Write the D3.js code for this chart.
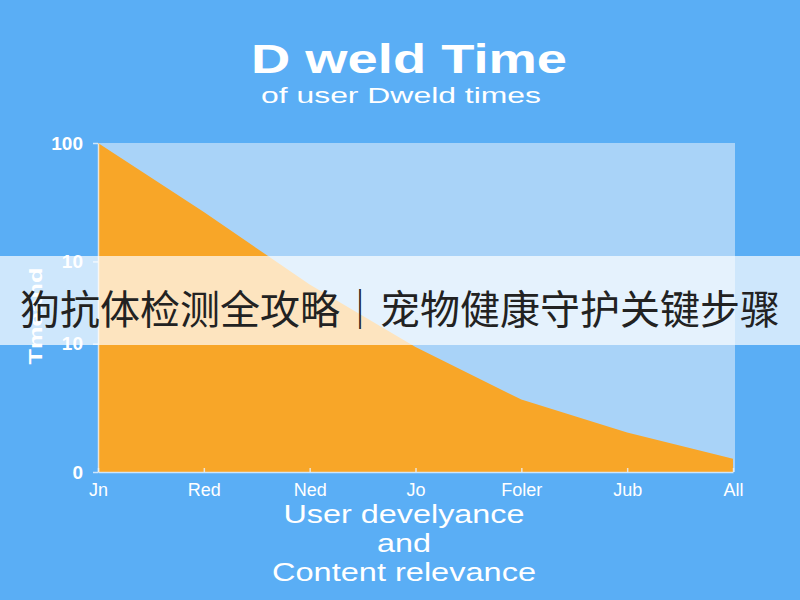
<!DOCTYPE html>
<html>
<head>
<meta charset="utf-8">
<script src="https://cdn.jsdelivr.net/npm/d3@7/dist/d3.min.js"></script>
<style>
  html, body { margin: 0; padding: 0; background: #5aaef5; }
  svg { display: block; }
</style>
</head>
<body>
<div id="chart"></div>
<script>
// chart data
var months = ["Jn", "Red", "Ned", "Jo", "Foler", "Jub", "All"];
var dwell = [100, 79, 57, 38, 22, 12, 4];
var yTickValues = [0, 39, 64, 100];
var yTickLabels = ["0", "10", "10", "100"];
var axisTitleLines = ["User develyance", "and", "Content relevance"];
var banner = "狗抗体检测全攻略｜宠物健康守护关键步骤";

// set the dimensions and margins of the graph
var W = 800, H = 600;
var margin = {top: 143, right: 65, bottom: 128, left: 98},
    width = W - margin.left - margin.right,
    height = H - margin.top - margin.bottom;

var svg = d3.select("#chart").append("svg")
    .attr("width", W)
    .attr("height", H);

svg.append("rect")
    .attr("width", W).attr("height", H)
    .attr("fill", "#5aaef5");

// title + subtitle
svg.append("text")
    .attr("x", 409).attr("y", 73)
    .attr("text-anchor", "middle")
    .attr("font-family", "Liberation Sans, Arial, sans-serif")
    .attr("font-weight", "bold")
    .attr("font-size", 40)
    .attr("fill", "#fff")
    .attr("textLength", 316).attr("lengthAdjust", "spacingAndGlyphs")
    .text("D weld Time");

svg.append("text")
    .attr("x", 401).attr("y", 103)
    .attr("text-anchor", "middle")
    .attr("font-family", "Liberation Sans, Arial, sans-serif")
    .attr("font-size", 22)
    .attr("fill", "#fff")
    .attr("textLength", 280).attr("lengthAdjust", "spacingAndGlyphs")
    .text("of user Dweld times");

var g = svg.append("g")
    .attr("transform", "translate(" + margin.left + "," + margin.top + ")");

// set the ranges
var x = d3.scalePoint().domain(months).range([0, width - 2]);
var y = d3.scaleLinear().domain([0, 100]).range([height, 0]);

// plot background
g.append("rect")
    .attr("width", width).attr("height", height)
    .attr("fill", "#a9d3f8");

// the area
var area = d3.area()
    .x(function (d, i) { return x(months[i]); })
    .y0(height)
    .y1(function (d) { return y(d); });

g.append("path")
    .datum(dwell)
    .attr("fill", "#f8a628")
    .attr("d", area);

// x axis
var xAxis = g.append("g")
    .attr("transform", "translate(0," + height + ")")
    .call(d3.axisBottom(x).tickSizeInner(-4).tickSizeOuter(0).tickPadding(11));
xAxis.selectAll("text")
    .attr("fill", "#fff")
    .attr("font-family", "Liberation Sans, Arial, sans-serif")
    .attr("font-size", 18);

// y axis
var yAxis = g.append("g")
    .call(d3.axisLeft(y).tickValues(yTickValues)
        .tickFormat(function (d, i) { return yTickLabels[i]; })
        .tickSizeInner(5).tickSizeOuter(0).tickPadding(10));
yAxis.selectAll("text")
    .attr("fill", "#fff")
    .attr("font-family", "Liberation Sans, Arial, sans-serif")
    .attr("font-weight", "bold")
    .attr("font-size", 19);

g.selectAll(".domain, .tick line")
    .attr("stroke", "#eaf4fd")
    .attr("stroke-width", 1.5)
    .attr("opacity", 0.8);

// axis titles
var widths = [241, 54, 264];
svg.selectAll(".xtitle")
    .data(axisTitleLines)
    .enter().append("text")
    .attr("class", "xtitle")
    .attr("x", 404)
    .attr("y", function (d, i) { return 523 + i * 29; })
    .attr("text-anchor", "middle")
    .attr("font-family", "Liberation Sans, Arial, sans-serif")
    .attr("font-size", 26)
    .attr("fill", "#fff")
    .attr("textLength", function (d, i) { return widths[i]; })
    .attr("lengthAdjust", "spacingAndGlyphs")
    .text(function (d) { return d; });

svg.append("text")
    .attr("transform", "translate(42,316) rotate(-90)")
    .attr("text-anchor", "middle")
    .attr("font-family", "Liberation Sans, Arial, sans-serif")
    .attr("font-weight", "bold")
    .attr("font-size", 19)
    .attr("fill", "#fff")
    .attr("textLength", 97).attr("lengthAdjust", "spacingAndGlyphs")
    .text("Tmeand");

// banner overlay
svg.append("rect")
    .attr("x", 0).attr("y", 256)
    .attr("width", W).attr("height", 89)
    .attr("fill", "#fff")
    .attr("opacity", 0.7);

svg.append("text")
    .attr("x", 400).attr("y", 324)
    .attr("text-anchor", "middle")
    .attr("font-family", "Noto Sans CJK SC, sans-serif")
    .attr("font-size", 40)
    .attr("fill", "#222")
    .text(banner);
</script>
</body>
</html>
